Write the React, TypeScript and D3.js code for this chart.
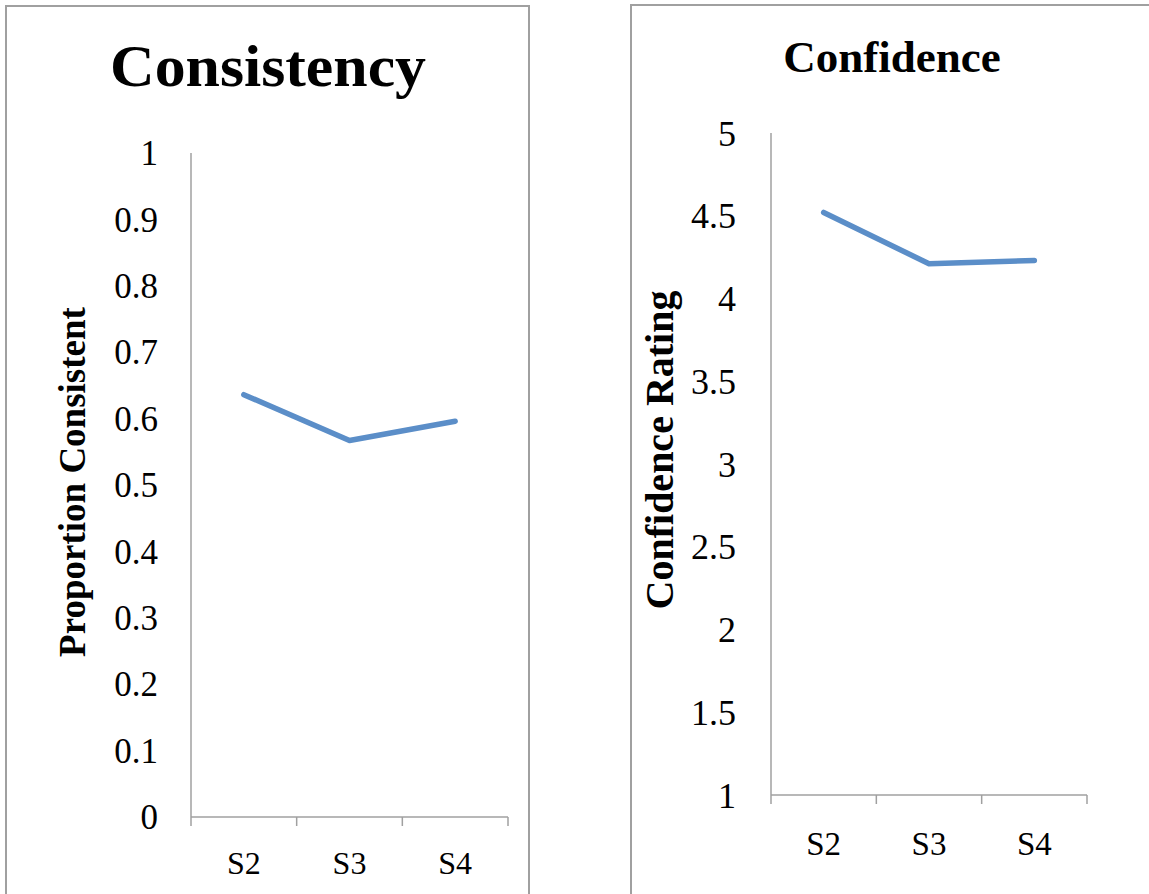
import React from "react";
import * as d3 from "d3";

const categories = ["S2", "S3", "S4"];
const consistencyValues = [0.636, 0.567, 0.596];
const consistencyTicks = [0, 0.1, 0.2, 0.3, 0.4, 0.5, 0.6, 0.7, 0.8, 0.9, 1];
const confidenceValues = [4.52, 4.21, 4.23];
const confidenceTicks = [1, 1.5, 2, 2.5, 3, 3.5, 4, 4.5, 5];

const SERIF = "'Liberation Serif', 'Times New Roman', serif";
const LINE = "#5B8EC8";
const AXIS = "#A0A0A0";

type PanelProps = {
  frame: { x: number; y: number; w: number; h: number };
  plot: { x0: number; x1: number; y0: number; y1: number };
  domain: [number, number];
  ticks: number[];
  values: number[];
  title: string;
  titleX: number;
  titleY: number;
  titleSize: number;
  titleLength?: number;
  yTitle: string;
  yTitleX: number;
  yTitleY: number;
  yTitleSize: number;
  tickSize: number;
  tickRight: number;
  xLabelSize: number;
  xLabelOffset: number;
};

function Panel(p: PanelProps) {
  const x = d3.scaleBand<string>().domain(categories).range([p.plot.x0, p.plot.x1]);
  const y = d3.scaleLinear().domain(p.domain).range([p.plot.y1, p.plot.y0]);
  const line = d3
    .line<number>()
    .x((_, i) => (x(categories[i]) as number) + x.bandwidth() / 2)
    .y((v) => y(v));
  const boundaries = [...categories.map((c) => x(c) as number), p.plot.x1];
  const fmt = (v: number) => String(v);
  return (
    <g>
      <rect
        x={p.frame.x}
        y={p.frame.y}
        width={p.frame.w}
        height={p.frame.h}
        fill="white"
        stroke={AXIS}
        strokeWidth={2}
      />
      <text
        x={p.titleX}
        y={p.titleY}
        textAnchor="middle"
        fontFamily={SERIF}
        fontWeight="bold"
        fontSize={p.titleSize}
        textLength={p.titleLength}
        lengthAdjust="spacingAndGlyphs"
      >
        {p.title}
      </text>
      <text
        transform={`translate(${p.yTitleX},${p.yTitleY}) rotate(-90)`}
        textAnchor="middle"
        fontFamily={SERIF}
        fontWeight="bold"
        fontSize={p.yTitleSize}
      >
        {p.yTitle}
      </text>
      {p.ticks.map((t) => (
        <text
          key={t}
          x={p.tickRight}
          y={y(t)}
          dy="0.35em"
          textAnchor="end"
          fontFamily={SERIF}
          fontSize={p.tickSize}
        >
          {fmt(t)}
        </text>
      ))}
      <line x1={p.plot.x0} x2={p.plot.x0} y1={y(p.domain[1])} y2={y(p.domain[0])} stroke={AXIS} strokeWidth={1.5} />
      <line x1={p.plot.x0} x2={p.plot.x1} y1={y(p.domain[0])} y2={y(p.domain[0])} stroke={AXIS} strokeWidth={1.5} />
      {boundaries.map((bx, i) => (
        <line key={i} x1={bx} x2={bx} y1={y(p.domain[0])} y2={y(p.domain[0]) + 9} stroke={AXIS} strokeWidth={1.5} />
      ))}
      {categories.map((c) => (
        <text
          key={c}
          x={(x(c) as number) + x.bandwidth() / 2}
          y={y(p.domain[0]) + p.xLabelOffset}
          textAnchor="middle"
          fontFamily={SERIF}
          fontSize={p.xLabelSize}
        >
          {c}
        </text>
      ))}
      <path
        d={line(p.values) || ""}
        fill="none"
        stroke={LINE}
        strokeWidth={5.5}
        strokeLinecap="round"
        strokeLinejoin="round"
      />
    </g>
  );
}

export default function App() {
  return (
    <svg
      width={1149}
      height={894}
      style={{ position: "absolute", left: 0, top: 0, background: "white" }}
    >
      <Panel
        frame={{ x: 6, y: 6, w: 523, h: 920 }}
        plot={{ x0: 191, x1: 508, y0: 153, y1: 817 }}
        domain={[0, 1]}
        ticks={consistencyTicks}
        values={consistencyValues}
        title="Consistency"
        titleX={268}
        titleY={86}
        titleSize={60}
        titleLength={316}
        yTitle="Proportion Consistent"
        yTitleX={85}
        yTitleY={482}
        yTitleSize={37}
        tickSize={35}
        tickRight={158}
        xLabelSize={32}
        xLabelOffset={57}
      />
      <Panel
        frame={{ x: 631, y: 5, w: 560, h: 920 }}
        plot={{ x0: 771, x1: 1087, y0: 133, y1: 795 }}
        domain={[1, 5]}
        ticks={confidenceTicks}
        values={confidenceValues}
        title="Confidence"
        titleX={892}
        titleY={72}
        titleSize={45}
        yTitle="Confidence Rating"
        yTitleX={673}
        yTitleY={450}
        yTitleSize={40}
        tickSize={36}
        tickRight={736}
        xLabelSize={33}
        xLabelOffset={60}
      />
    </svg>
  );
}
